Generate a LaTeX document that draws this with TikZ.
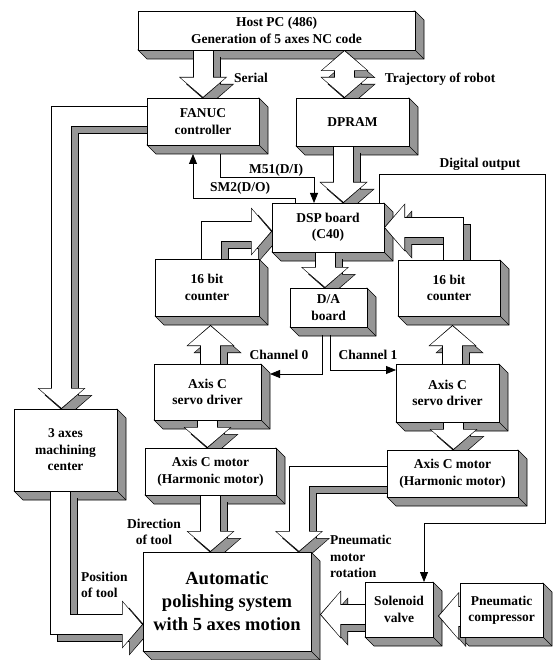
\documentclass[tikz,border=0pt]{standalone}
\usepackage{fontspec}
\setmainfont{Liberation Serif}
\usetikzlibrary{arrows.meta,calc,positioning}
\pgfdeclarelayer{bg}
\pgfdeclarelayer{mid}
\pgfsetlayers{bg,mid,main}
\definecolor{shadegray}{RGB}{150,150,150}
\newcommand{\labfont}{\bfseries\fontsize{13.5}{16.5}\selectfont}
\newcommand{\polfont}{\bfseries\fontsize{18.5}{23}\selectfont}
% hollow block arrow with its shadow
\newcommand{\fatlink}[2]{%
  \begin{pgfonlayer}{bg}
    \draw[fatedge, #1, transform canvas={shift={(7,7)}}] #2;
    \draw[fatshade, #1, transform canvas={shift={(7,7)}}] #2;
  \end{pgfonlayer}
  \begin{pgfonlayer}{mid}
    \draw[fatedge, #1] #2;
    \draw[fatbody, #1] #2;
  \end{pgfonlayer}}

\begin{document}
\begin{tikzpicture}[
    x=1pt, y=-1pt,
    box/.style 2 args={draw=black, fill=white, line width=0.8pt, inner sep=1pt, outer sep=0pt, align=center, font=\labfont, minimum width=#1pt, minimum height=#2pt},
    boxshade/.style={fill=shadegray, draw=black, line width=0.6pt, line join=miter},
    fatedge/.style={draw=black, line width=21pt, line join=miter, twohead/.style={<->}, >={Triangle[width=48pt,length=21pt,line width=0pt]}},
    fatshade/.style={draw=shadegray, line width=19pt, line join=miter, shorten >=1.2pt, twohead/.style={<->, shorten <=1.2pt}, >={Triangle[width=45pt,length=19.2pt,line width=0pt]}},
    fatbody/.style={draw=white, line width=19pt, line join=miter, shorten >=1.2pt, twohead/.style={<->, shorten <=1.2pt}, >={Triangle[width=45pt,length=19.2pt,line width=0pt]}},
    sig/.style={draw=black, line width=0.8pt, -{Triangle[width=8pt,length=10pt]}},
    lab/.style={font=\labfont, inner sep=0pt},
]
    \useasboundingbox (0,0) rectangle (554,660);

    % Blocks
    \node[box={277}{39}] (host) at (276.5,30.5) {Host PC (486)\\Generation of 5 axes NC code};
    \node[box={112}{47}] (fanuc) at (203,121.5) {FANUC\\controller};
    \node[box={113}{48}] (dpram) at (352.5,122) {DPRAM};
    \node[box={112}{49}] (dsp) at (328,227.5) {DSP board\\(C40)};
    \node[box={104}{57}] (cntL) at (207,287.5) {16 bit\\counter};
    \node[box={102}{56}] (cntR) at (449,288) {16 bit\\counter};
    \node[box={77}{39}] (da) at (328.5,307.5) {D/A\\board};
    \node[box={107}{56}] (drvL) at (207.5,392) {Axis C\\servo driver};
    \node[box={103}{58}] (drvR) at (447.5,393) {Axis C\\servo driver};
    \node[box={131}{47}] (motL) at (210.5,471.5) {Axis C motor\\(Harmonic motor)};
    \node[box={131}{47}] (motR) at (452.5,473.5) {Axis C motor\\(Harmonic motor)};
    \node[box={103}{82}] (mach) at (65.5,450) {3 axes\\machining\\center};
    \node[box={168}{99}, font=\polfont] (pol) at (227,601.5) {Automatic\\polishing system\\with 5 axes motion};
    \node[box={68}{55}] (sol) at (399,609.5) {Solenoid\\valve};
    \node[box={83}{54}] (comp) at (501.5,610) {Pneumatic\\compressor};

    % 3D shadows of the blocks
    \begin{pgfonlayer}{bg}
    \foreach \b in {host,fanuc,dpram,dsp,cntL,cntR,da,drvL,drvR,motL,motR,mach,pol,sol,comp} {
        \filldraw[boxshade] (\b.north east) -- ++(9,9) -- ($(\b.south east)+(9,9)$) -- ($(\b.south west)+(9,9)$) -- (\b.south west) -- cycle;
        \draw[line width=0.6pt] (\b.south east) -- ++(9,9);
    }
    \end{pgfonlayer}

    % Block arrows
    \fatlink{->}{(fanuc.north |- host.south) -- (fanuc.north)}
    \fatlink{twohead}{($(dpram.north |- host.south)+(-8,0)$) -- ($(dpram.north)+(-8,0)$)}
    \fatlink{->}{($(dpram.south)+(-9,0)$) -- ($(dsp.north -| dpram.south)+(-9,0)$)}
    \fatlink{->}{($(fanuc.west)+(0,-5)$) -| ($(mach.north)+(-4,0)$)}
    \fatlink{->}{($(cntL.north)+(4.5,0)$) |- ($(dsp.west)+(0,4)$)}
    \fatlink{->}{($(cntR.north)+(4,0)$) |- (dsp.east)}
    \fatlink{->}{($(dsp.south)+(-3,0)$) -- ($(da.north -| dsp.south)+(-3,0)$)}
    \fatlink{->}{($(drvL.north)+(3,0)$) -- ($(cntL.south -| drvL.north)+(3,9)$)}
    \fatlink{->}{($(drvR.north)+(5,0)$) -- ($(cntR.south -| drvR.north)+(5,9)$)}
    \fatlink{->}{(drvL.south) -- (motL.north -| drvL.south)}
    \fatlink{->}{($(drvR.south)+(6,0)$) -- ($(motR.north -| drvR.south)+(6,0)$)}
    \fatlink{->}{(motL.south) -- (pol.north -| motL.south)}
    \fatlink{->}{($(motR.west)+(0,3)$) -| ($(pol.north east)+(-12,0)$)}
    \fatlink{->}{($(mach.south)+(-5,0)$) |- ($(pol.west)+(0,23)$)}
    \fatlink{->}{($(sol.west)+(0,5)$) -- ($(pol.east |- sol.west)+(9,5)$)}
    \fatlink{->}{($(comp.west)+(0,6)$) -- ($(sol.east |- comp.west)+(5,6)$)}

    % Signal lines
    \begin{pgfonlayer}{mid}
    \draw[sig] ($(fanuc.south)+(17,9)$) -- ++(0,23) -| ($(dsp.north)+(-14,0)$);
    \draw[sig] ($(dsp.north)+(-33,0)$) -- ++(0,-5) -| ($(fanuc.south)+(-10,9)$);
    \draw[sig] ($(dsp.north)+(51,0)$) |- ++(166,-29) -- ++(0,349) -| ($(sol.north)+(25,0)$);
    \draw[sig] ($(da.south)+(-6.5,8)$) |- ($(drvL.east)+(9,-18)$);
    \draw[sig] ($(da.south)+(1.5,8)$) |- ($(drvR.west)+(0,-23)$);
    \end{pgfonlayer}

    % Labels
    \node[lab] (serialLab) at (251,78) {Serial};
    \node[lab] (trajLab) at (440,79) {Trajectory of robot};
    \node[lab] (m51Lab) at (276,170) {M51(D/I)};
    \node[lab] (sm2Lab) at (240,188) {SM2(D/O)};
    \node[lab] (digLab) at (480,164) {Digital output};
    \node[lab] (ch0Lab) at (279,355) {Channel 0};
    \node[lab] (ch1Lab) at (368,355) {Channel 1};
    \node[lab, align=center] (dirLab) at (154,532) {Direction\\of tool};
    \node[lab, align=left, anchor=west] (posLab) at (81,585) {Position\\of tool};
    \node[lab, align=left, anchor=north west] (pneuLab) at (330,535) {Pneumatic\\motor\\rotation};
\end{tikzpicture}
\end{document}
